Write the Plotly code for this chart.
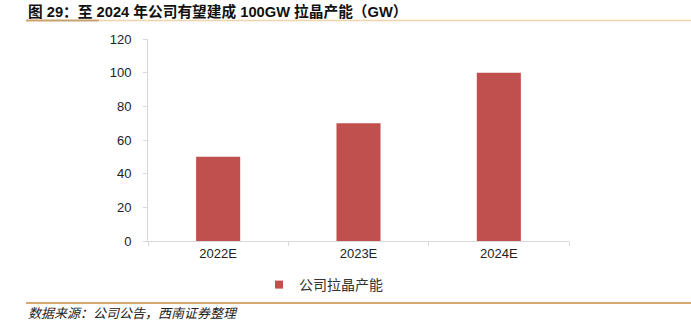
import plotly.graph_objects as go

categories = ["2022E", "2023E", "2024E"]
capacity = [50, 70, 100]
y_ticks = [0, 20, 40, 60, 80, 100, 120]
series_name = "公司拉晶产能"
title_text = "<b>图 29：至 2024 年公司有望建成 100GW 拉晶产能（GW）</b>"
source_text = "数据来源：公司公告，西南证券整理"

W, H = 691, 324
L, R, T, B = 148, 122, 39, 83
BAR = "#C0504D"
CJK = "Liberation Sans, Arial, Noto Sans CJK SC"

fig = go.Figure()
fig.add_trace(go.Bar(x=categories, y=capacity, marker=dict(color=BAR, line=dict(width=0)),
                     showlegend=False, name=series_name))
fig.add_trace(go.Scatter(x=[None], y=[None], mode="markers", name=series_name,
                         marker=dict(symbol="square", size=8, color=BAR)))

def px_x(p):
    return (p - L) / (W - L - R)

def px_y(p):
    return 1 - (p - T) / (H - T - B)

fig.update_layout(
    width=W, height=H,
    margin=dict(l=L, r=R, t=T, b=B, pad=0),
    paper_bgcolor="white", plot_bgcolor="white",
    bargap=0.686,
    font=dict(family=CJK, size=13, color="#222"),
    showlegend=True,
    legend=dict(orientation="h", x=px_x(259), xanchor="left", y=px_y(285), yanchor="middle",
                font=dict(size=14, color="#333", family="Noto Sans CJK SC"),
                bgcolor="rgba(0,0,0,0)", itemwidth=30, tracegroupgap=0),
    xaxis=dict(showgrid=False, showline=True, linecolor="#D9D9D9", linewidth=1,
               ticks="outside", ticklen=4, tickcolor="#D9D9D9", tickson="boundaries",
               tickfont=dict(size=13, color="#222", family="Liberation Sans"),
               fixedrange=True),
    yaxis=dict(range=[0, 120], tickvals=y_ticks, showgrid=False, showline=True,
               linecolor="#D9D9D9", linewidth=1, ticks="outside", ticklen=4,
               tickcolor="#D9D9D9", ticklabelstandoff=9,
               tickfont=dict(size=13, color="#222", family="Liberation Sans"),
               zeroline=False, fixedrange=True),
)

fig.add_annotation(text=title_text, xref="paper", yref="paper", x=px_x(26), y=px_y(1),
                   xanchor="left", yanchor="top", showarrow=False,
                   font=dict(size=14.7, color="#111", family="Liberation Sans, Noto Sans CJK SC"))
fig.add_annotation(text="<i>" + source_text + "</i>", xref="paper", yref="paper",
                   x=px_x(27), y=px_y(323), xanchor="left", yanchor="bottom", showarrow=False,
                   borderpad=0,
                   font=dict(size=13, color="#222", family="Noto Sans CJK SC"))

# decorative rules
fig.add_shape(type="line", xref="paper", yref="paper", x0=px_x(99), x1=px_x(691),
              y0=px_y(20.5), y1=px_y(20.5), line=dict(color="#F2D3AC", width=1.5))
fig.add_shape(type="line", xref="paper", yref="paper", x0=px_x(26), x1=px_x(99),
              y0=px_y(20.5), y1=px_y(20.5), line=dict(color="#C9A26E", width=2))
fig.add_shape(type="line", xref="paper", yref="paper", x0=px_x(26), x1=px_x(691),
              y0=px_y(303), y1=px_y(303), line=dict(color="#D9A870", width=2))

fig.write_html("out.html")
